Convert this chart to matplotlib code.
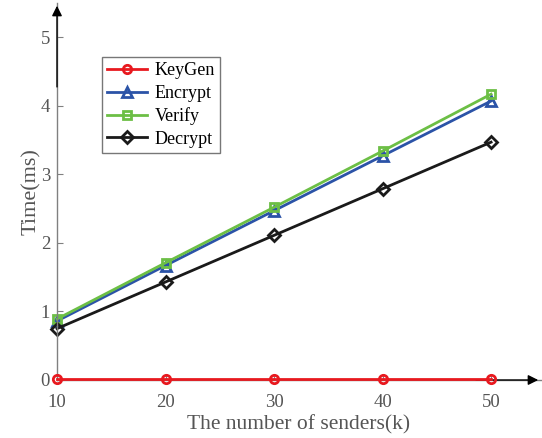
import matplotlib
matplotlib.use("Agg")
import matplotlib.pyplot as plt

senders = [10, 20, 30, 40, 50]
keygen = [0.01, 0.01, 0.01, 0.01, 0.01]
encrypt = [0.86, 1.67, 2.47, 3.27, 4.07]
verify = [0.89, 1.71, 2.52, 3.34, 4.17]
decrypt = [0.75, 1.43, 2.11, 2.79, 3.47]
xticks = [10, 20, 30, 40, 50]
yticks = [0, 1, 2, 3, 4, 5]

plt.rcParams['font.family'] = ['Liberation Serif', 'DejaVu Serif']

fig = plt.figure(figsize=(5.42, 4.38), dpi=100)
ax = fig.add_axes([57/542, 58/438, (541-57)/542, (380-3)/438])

ax.plot(senders, keygen, color='#e8191f', lw=2, marker='o', ms=6, mfc='none', mew=2, label='KeyGen', zorder=5, clip_on=False)
ax.plot(senders, encrypt, color='#2b53a7', lw=2, marker='^', ms=7, mfc='none', mew=2, label='Encrypt', clip_on=False)
ax.plot(senders, verify, color='#6cbf45', lw=2, marker='s', ms=6, mfc='none', mew=2, label='Verify', clip_on=False)
ax.plot(senders, decrypt, color='#1a1a1a', lw=2, marker='D', ms=6, mfc='none', mew=2, label='Decrypt', clip_on=False)

ax.set_xlim(10, 54.6)
ax.set_ylim(0, 5.5)
ax.set_xticks(xticks)
ax.set_yticks(yticks)
for s in ['top', 'right']:
    ax.spines[s].set_visible(False)
for s in ['left', 'bottom']:
    ax.spines[s].set_color('#808080')
    ax.spines[s].set_linewidth(1)
ax.tick_params(direction='in', colors='#808080', labelcolor='#555555', labelsize=13.5, length=4)
ax.tick_params(axis='x', pad=10)
ax.tick_params(axis='y', pad=5)

ax.set_xlabel('The number of senders(k)', fontsize=15.5, color='#555555', labelpad=3)
ax.set_ylabel('Time(ms)', fontsize=16, color='#555555', labelpad=0)

ax.annotate('', xy=(1.0, 0), xytext=(0.86, 0), xycoords='axes fraction',
            arrowprops=dict(arrowstyle='-|>', color='black', lw=1, mutation_scale=15), annotation_clip=False)
ax.annotate('', xy=(0, 1.0), xytext=(0, 0.77), xycoords='axes fraction',
            arrowprops=dict(arrowstyle='-|>', color='black', lw=1, mutation_scale=15), annotation_clip=False)

leg = ax.legend(loc='upper left', bbox_to_anchor=((102-57)/484, (380-57)/377), fontsize=13,
                frameon=True, fancybox=False, edgecolor='#555555', handlelength=2.2,
                borderpad=0.3, labelspacing=0.3, handletextpad=0.4, borderaxespad=0)
leg.get_frame().set_linewidth(1)

fig.savefig('out.png', dpi=100)
